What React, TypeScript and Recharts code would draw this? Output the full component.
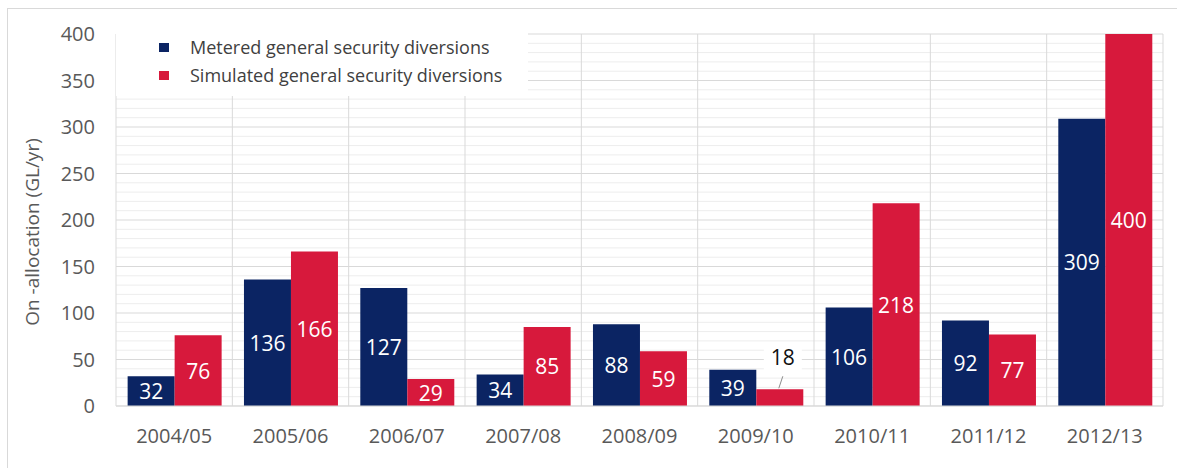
import {
  BarChart,
  Bar,
  XAxis,
  YAxis,
  CartesianGrid,
  Legend,
  LabelList,
  Label,
} from "recharts";

const years = [
  "2004/05",
  "2005/06",
  "2006/07",
  "2007/08",
  "2008/09",
  "2009/10",
  "2010/11",
  "2011/12",
  "2012/13",
];
const metered = [32, 136, 127, 34, 88, 39, 106, 92, 309];
const simulated = [76, 166, 29, 85, 59, 18, 218, 77, 400];
const yTicks = [0, 50, 100, 150, 200, 250, 300, 350, 400];
const minorLines = [
  10, 20, 30, 40, 60, 70, 80, 90, 110, 120, 130, 140, 160, 170, 180, 190, 210,
  220, 230, 240, 260, 270, 280, 290, 310, 320, 330, 340, 360, 370, 380, 390,
];

const navy = "#0b2463";
const red = "#d7193c";
const font = "'Open Sans', sans-serif";
const yMax = 400;

const data = years.map((year, i) => ({
  year,
  metered: metered[i],
  simulated: simulated[i],
}));

const valueLabel = (props: any) => {
  const { x, y, width, height, value } = props;
  const cx = x + width / 2;
  if (value < 20) {
    // small bar: label sits above with a leader line
    return (
      <g>
        <rect x={cx - 16} y={y - 46} width={38} height={27} fill="#fff" />
        <line x1={cx - 1} y1={y - 1} x2={cx + 3} y2={y - 13} stroke="#8c8c8c" />
        <text
          x={cx + 3}
          y={y - 32}
          textAnchor="middle"
          dominantBaseline="central"
          fill="#111"
          fontSize={21}
          fontFamily={font}
        >
          {value}
        </text>
      </g>
    );
  }
  return (
    <text
      x={cx}
      y={y + height / 2}
      textAnchor="middle"
      dominantBaseline="central"
      fill="#fff"
      fontSize={21}
      fontFamily={font}
    >
      {value}
    </text>
  );
};

const yTitle = (props: any) => {
  const vb = props.viewBox;
  const cx = vb.x + 32;
  const cy = vb.y + vb.height / 2 + 12;
  return (
    <text
      x={cx}
      y={cy}
      transform={`rotate(-90, ${cx}, ${cy})`}
      textAnchor="middle"
      dominantBaseline="central"
      fill="#595959"
      fontSize={19}
      fontFamily={font}
    >
      On -allocation (GL/yr)
    </text>
  );
};

const legendContent = () => {
  const items = [
    { name: "Metered general security diversions", color: navy },
    { name: "Simulated general security diversions", color: red },
  ];
  return (
    <div style={{ paddingTop: 13, paddingLeft: 43 }}>
      {items.map((item) => (
        <div
          key={item.name}
          style={{ display: "flex", alignItems: "center", height: 28 }}
        >
          <span
            style={{
              display: "inline-block",
              width: 10,
              height: 9,
              background: item.color,
              marginRight: 21,
            }}
          />
          <span style={{ fontSize: 18, color: "#404040", fontFamily: font }}>
            {item.name}
          </span>
        </div>
      ))}
    </div>
  );
};

const minorRows = ({ offset }: any) =>
  minorLines.map((v) => offset.top + offset.height * (1 - v / yMax));
const majorRows = ({ offset }: any) =>
  yTicks.map((v) => offset.top + offset.height * (1 - v / yMax));
const categoryEdges = ({ offset }: any) =>
  Array.from(
    { length: years.length + 1 },
    (_, i) => offset.left + (i * offset.width) / years.length
  );

export default function App() {
  return (
    <div
      style={{
        position: "absolute",
        left: 0,
        top: 0,
        width: 1177,
        height: 468,
        background: "#fff",
        fontFamily: font,
        overflow: "hidden",
      }}
    >
      <div
        style={{
          position: "absolute",
          left: 7,
          top: 8,
          width: 1200,
          height: 500,
          border: "1px solid #d9d9d9",
        }}
      />
      <BarChart
        width={1177}
        height={468}
        data={data}
        margin={{ top: 34, right: 14, bottom: 0, left: 0 }}
        barCategoryGap="10%"
        barGap={0}
      >
        <CartesianGrid
          vertical={false}
          stroke="#ededed"
          horizontalCoordinatesGenerator={minorRows}
        />
        <CartesianGrid
          stroke="#d9d9d9"
          horizontalCoordinatesGenerator={majorRows}
          verticalCoordinatesGenerator={categoryEdges}
        />
        <XAxis
          dataKey="year"
          height={62}
          tickLine={false}
          tickSize={0}
          tickMargin={23}
          axisLine={{ stroke: "#d9d9d9" }}
          tick={{ fill: "#595959", fontSize: 20, fontFamily: font }}
        />
        <YAxis
          width={116}
          domain={[0, yMax]}
          ticks={yTicks}
          axisLine={false}
          tickLine={false}
          tickSize={0}
          tickMargin={21}
          tick={{ fill: "#595959", fontSize: 20, fontFamily: font }}
        >
          <Label content={yTitle} />
        </YAxis>
        <Legend
          layout="horizontal"
          verticalAlign="middle"
          align="center"
          content={legendContent}
          wrapperStyle={{
            left: 116,
            top: 20,
            width: 412,
            height: 76,
            background: "#fff",
          }}
        />
        <Bar dataKey="metered" fill={navy} isAnimationActive={false}>
          <LabelList dataKey="metered" content={valueLabel} />
        </Bar>
        <Bar dataKey="simulated" fill={red} isAnimationActive={false}>
          <LabelList dataKey="simulated" content={valueLabel} />
        </Bar>
      </BarChart>
    </div>
  );
}
